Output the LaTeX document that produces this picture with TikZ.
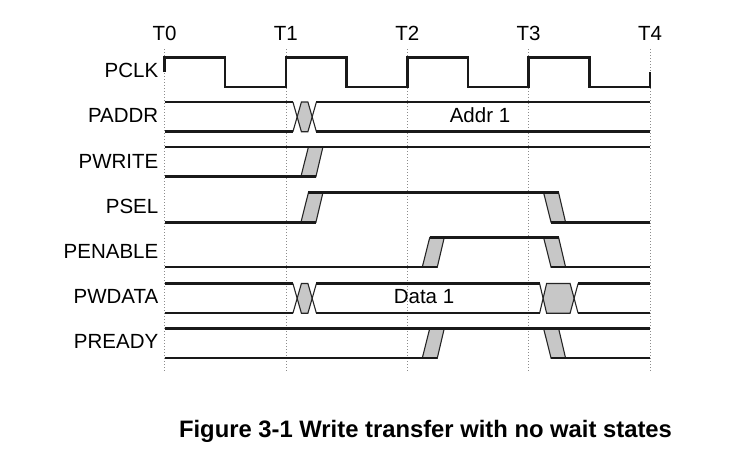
\documentclass[tikz,border=0pt]{standalone}
\usepackage{fontspec}
\setmainfont{Liberation Sans}
\begin{document}
\begin{tikzpicture}[x=1pt,y=-1pt,
  wave/.style={line width=2.5pt,draw=black!90,line join=miter,line cap=butt},
  edge/.style={line width=1.1pt,draw=black!85,fill=black!22,line join=miter},
  xline/.style={line width=1.1pt,draw=black!85},
  grid/.style={line width=0.8pt,draw=black!45,dash pattern=on 0.9pt off 2.1pt},
  lbl/.style={font=\fontsize{20.5}{24}\selectfont,anchor=base east,inner sep=0pt},
  tlbl/.style={font=\fontsize{20.5}{24}\selectfont,anchor=base,inner sep=0pt},
  dlbl/.style={font=\fontsize{20.5}{24}\selectfont,anchor=base,inner sep=0pt}]
\useasboundingbox (0,0) rectangle (741,453);
\def\Ta{164.5}\def\Tb{285.9}\def\Tc{407.25}\def\Td{528.6}\def\Te{650}
% rows: top / bottom
\def\At{57.4}\def\Ab{87.1}
\def\Bt{102}\def\Bb{131.7}
\def\Ct{147}\def\Cb{176.7}
\def\Dt{192.7}\def\Db{222.4}
\def\Et{237.5}\def\Eb{267.2}
\def\Ft{283.5}\def\Fb{313.2}
\def\Gt{328.5}\def\Gb{358.2}
\newcommand{\wvrise}[3]{\filldraw[edge] ({#1+15},#3) -- ({#1+30},#3) -- ({#1+37},#2) -- ({#1+22.5},#2) -- cycle;}
\newcommand{\wvfall}[3]{\filldraw[edge] ({#1+15},#2) -- ({#1+30},#2) -- ({#1+37},#3) -- ({#1+22.5},#3) -- cycle;}
\newcommand{\wvcross}[7]{%
  \fill[black!22] ({#1+(#4+#5)/2},{(#2+#3)/2}) -- ({#1+#5},#2) -- ({#1+#6},#2) -- ({#1+(#6+#7)/2},{(#2+#3)/2}) -- ({#1+#6},#3) -- ({#1+#5},#3) -- cycle;
  \draw[xline] ({#1+#4},#2) -- ({#1+#5},#3) -- ({#1+#6},#3) -- ({#1+#7},#2);
  \draw[xline] ({#1+#4},#3) -- ({#1+#5},#2) -- ({#1+#6},#2) -- ({#1+#7},#3);}
% time labels
\node[tlbl] (t0) at (\Ta,40.5) {T0};
\node[tlbl] (t1) at (\Tb,40.5) {T1};
\node[tlbl] (t2) at (\Tc,40.5) {T2};
\node[tlbl] (t3) at (\Td,40.5) {T3};
\node[tlbl] (t4) at (\Te,40.5) {T4};
% grid
\foreach \x in {\Ta,\Tb,\Tc,\Td,\Te} \draw[grid] (\x,49) -- (\x,372);
% signal labels
\node[lbl] (lpclk) at (158.5,77.7) {PCLK};
\node[lbl] (lpaddr) at (158.5,122.9) {PADDR};
\node[lbl] (lpwrite) at (158.5,168.1) {PWRITE};
\node[lbl] (lpsel) at (158.5,213.3) {PSEL};
\node[lbl] (lpenable) at (158.5,258.5) {PENABLE};
\node[lbl] (lpwdata) at (158.5,303.7) {PWDATA};
\node[lbl] (lpready) at (158.5,348.9) {PREADY};
% PCLK
\draw[wave] (\Ta,72.2) -- (\Ta,\At) -- (225.2,\At) -- (225.2,\Ab) -- (\Tb,\Ab) -- (\Tb,\At)
  -- (346.6,\At) -- (346.6,\Ab) -- (\Tc,\Ab) -- (\Tc,\At) -- (467.9,\At) -- (467.9,\Ab)
  -- (\Td,\Ab) -- (\Td,\At) -- (589.3,\At) -- (589.3,\Ab) -- (\Te,\Ab) -- (\Te,72.2);
% PADDR
\wvcross{\Tb}{\Bt}{\Bb}{7}{15.5}{22}{30.5}
\draw[wave] (\Ta,\Bt) -- ({\Tb+7},\Bt) (\Ta,\Bb) -- ({\Tb+7},\Bb);
\draw[wave] ({\Tb+30.5},\Bt) -- (\Te,\Bt) ({\Tb+30.5},\Bb) -- (\Te,\Bb);
\node[dlbl] (addr) at (480,122.9) {Addr 1};
% PWRITE
\wvrise{\Tb}{\Ct}{\Cb}
\draw[wave] (\Ta,\Ct) -- (\Te,\Ct);
\draw[wave] (\Ta,\Cb) -- ({\Tb+30},\Cb);
% PSEL
\wvrise{\Tb}{\Dt}{\Db}
\wvfall{\Td}{\Dt}{\Db}
\draw[wave] (\Ta,\Db) -- ({\Tb+30},\Db);
\draw[wave] ({\Tb+22.5},\Dt) -- ({\Td+30},\Dt);
\draw[wave] ({\Td+22.5},\Db) -- (\Te,\Db);
% PENABLE
\wvrise{\Tc}{\Et}{\Eb}
\wvfall{\Td}{\Et}{\Eb}
\draw[wave] (\Ta,\Eb) -- ({\Tc+30},\Eb);
\draw[wave] ({\Tc+22.5},\Et) -- ({\Td+30},\Et);
\draw[wave] ({\Td+22.5},\Eb) -- (\Te,\Eb);
% PWDATA
\wvcross{\Tb}{\Ft}{\Fb}{7}{15.5}{22}{30.5}
\wvcross{\Td}{\Ft}{\Fb}{11}{18}{41.5}{49.5}
\draw[wave] (\Ta,\Ft) -- ({\Tb+7},\Ft) (\Ta,\Fb) -- ({\Tb+7},\Fb);
\draw[wave] ({\Tb+30.5},\Ft) -- ({\Td+11},\Ft) ({\Tb+30.5},\Fb) -- ({\Td+11},\Fb);
\draw[wave] ({\Td+49.5},\Ft) -- (\Te,\Ft) ({\Td+49.5},\Fb) -- (\Te,\Fb);
\node[dlbl] (data) at (424,303.7) {Data 1};
% PREADY
\wvrise{\Tc}{\Gt}{\Gb}
\wvfall{\Td}{\Gt}{\Gb}
\draw[wave] (\Ta,\Gt) -- (\Te,\Gt);
\draw[wave] (\Ta,\Gb) -- ({\Tc+30},\Gb);
\draw[wave] ({\Td+22.5},\Gb) -- (\Te,\Gb);
% caption
\node[font=\fontsize{23.8}{28}\selectfont\bfseries,anchor=base,inner sep=0pt] (cap) at (425.5,437.5) {Figure 3-1 Write transfer with no wait states};
\end{tikzpicture}
\end{document}
